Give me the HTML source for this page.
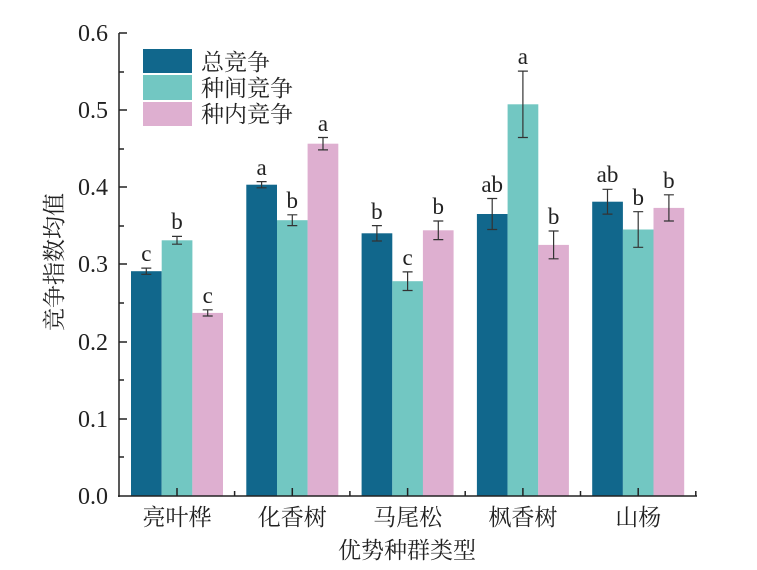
<!DOCTYPE html>
<html><head><meta charset="utf-8"><style>body{margin:0;background:#fff}</style></head><body>
<svg width="757" height="565" xmlns="http://www.w3.org/2000/svg" font-family="Liberation Serif, Noto Serif CJK SC, serif" fill="#222">
<g fill="#11678c">
<rect x="131" y="271.2" width="30.7" height="224.8"/><rect x="246.3" y="184.7" width="30.7" height="311.3"/><rect x="361.6" y="233.3" width="30.7" height="262.7"/><rect x="476.9" y="214" width="30.7" height="282"/><rect x="592.2" y="201.7" width="30.7" height="294.3"/>
</g>
<g fill="#72c7c2">
<rect x="161.7" y="240.3" width="30.7" height="255.7"/><rect x="277" y="220.2" width="30.7" height="275.8"/><rect x="392.3" y="281.2" width="30.7" height="214.8"/><rect x="507.6" y="104.3" width="30.7" height="391.7"/><rect x="622.9" y="229.5" width="30.7" height="266.5"/>
</g>
<g fill="#deafd0">
<rect x="192.3" y="312.9" width="30.7" height="183.1"/><rect x="307.6" y="143.7" width="30.7" height="352.3"/><rect x="422.9" y="230.3" width="30.7" height="265.7"/><rect x="538.2" y="244.9" width="30.7" height="251.1"/><rect x="653.5" y="207.9" width="30.7" height="288.1"/>
</g>
<g stroke="#333" stroke-width="1.2" fill="none">
<path d="M146.3 268.1V274.3M141.3 268.1H151.3M141.3 274.3H151.3"/>
<path d="M177 236.4V244.2M172 236.4H182M172 244.2H182"/>
<path d="M207.7 309.8V316M202.7 309.8H212.7M202.7 316H212.7"/>
<path d="M261.6 181.6V187.8M256.6 181.6H266.6M256.6 187.8H266.6"/>
<path d="M292.3 214.8V225.6M287.3 214.8H297.3M287.3 225.6H297.3"/>
<path d="M323 137.5V149.9M318 137.5H328M318 149.9H328"/>
<path d="M376.9 225.6V241M371.9 225.6H381.9M371.9 241H381.9"/>
<path d="M407.6 271.9V290.5M402.6 271.9H412.6M402.6 290.5H412.6"/>
<path d="M438.3 221V239.6M433.3 221H443.3M433.3 239.6H443.3"/>
<path d="M492.2 198.5V229.5M487.2 198.5H497.2M487.2 229.5H497.2"/>
<path d="M522.9 71.1V137.5M517.9 71.1H527.9M517.9 137.5H527.9"/>
<path d="M553.6 231V258.8M548.6 231H558.6M548.6 258.8H558.6"/>
<path d="M607.5 189.3V214.1M602.5 189.3H612.5M602.5 214.1H612.5"/>
<path d="M638.2 211.7V247.3M633.2 211.7H643.2M633.2 247.3H643.2"/>
<path d="M668.9 194.8V221M663.9 194.8H673.9M663.9 221H673.9"/>
</g>
<g font-size="23" text-anchor="middle">
<text x="146.3" y="261">c</text><text x="177" y="229">b</text><text x="207.7" y="303">c</text>
<text x="261.6" y="175">a</text><text x="292.3" y="208">b</text><text x="323" y="131">a</text>
<text x="376.9" y="219">b</text><text x="407.6" y="265">c</text><text x="438.3" y="214">b</text>
<text x="492.2" y="192">ab</text><text x="522.9" y="64">a</text><text x="553.6" y="224">b</text>
<text x="607.5" y="182">ab</text><text x="638.2" y="205">b</text><text x="668.9" y="188">b</text>
</g>
<g stroke="#222" stroke-width="1.5" fill="none">
<line x1="119" y1="33" x2="119" y2="497"/>
<line x1="118" y1="496" x2="697" y2="496"/>
<path d="M119 33H127M119 110H127M119 187H127M119 264H127M119 342H127M119 419H127"/>
<path d="M119 72H124M119 149H124M119 226H124M119 303H124M119 380H124M119 457H124"/>
<path d="M177 496V488M292.3 496V488M407.6 496V488M522.9 496V488M638.2 496V488"/>
<path d="M234.6 496V491M349.9 496V491M465.2 496V491M580.5 496V491M695.8 496V491"/>
</g>
<g font-size="24" text-anchor="end">
<text x="108" y="41">0.6</text><text x="108" y="118">0.5</text><text x="108" y="195">0.4</text><text x="108" y="272">0.3</text><text x="108" y="350">0.2</text><text x="108" y="427">0.1</text><text x="108" y="504">0.0</text>
</g>
<g font-size="23" text-anchor="middle">
<text x="177" y="525">亮叶桦</text><text x="292.3" y="525">化香树</text><text x="407.6" y="525">马尾松</text><text x="522.9" y="525">枫香树</text><text x="638.2" y="525">山杨</text>
<text x="407" y="558">优势种群类型</text>
<text transform="translate(62,262) rotate(-90)">竞争指数均值</text>
</g>
<rect x="143" y="49" width="49" height="24" fill="#11678c"/>
<rect x="143" y="75" width="49" height="25" fill="#72c7c2"/>
<rect x="143" y="102" width="49" height="24" fill="#deafd0"/>
<g font-size="23"><text x="201" y="70">总竞争</text><text x="201" y="96">种间竞争</text><text x="201" y="122">种内竞争</text></g>
</svg>
</body></html>
